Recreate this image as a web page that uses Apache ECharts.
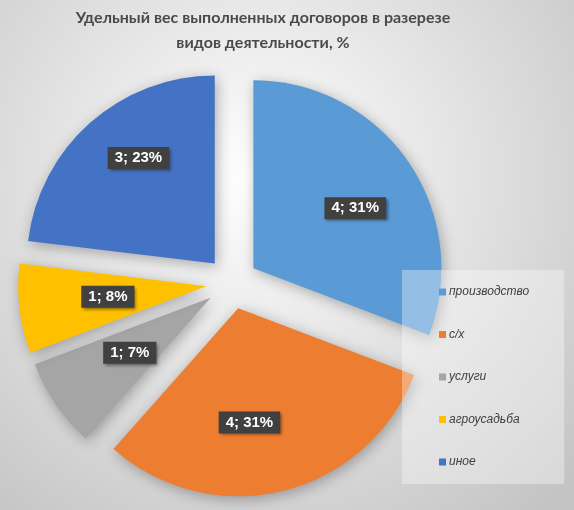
<!DOCTYPE html>
<html>
<head>
<meta charset="utf-8">
<script src="https://cdn.jsdelivr.net/npm/echarts@6/dist/echarts.min.js"></script>
<style>html,body{margin:0;padding:0;}#c{width:574px;height:510px;}</style>
</head>
<body>
<div id="c"></div>
<script>
// --- data ---
var categories = ['производство', 'с/х', 'услуги', 'агроусадьба', 'иное'];
var counts = [4, 4, 1, 1, 3];
var shares = [31, 31, 7, 8, 23];
var titleText = 'Удельный вес выполненных договоров в разерезе\nвидов деятельности, %';

// --- styling ---
var colors = ['#5B9BD5', '#ED7D31', '#A5A5A5', '#FFC000', '#4472C4'];
var labelNudge = [[22, -5], [-12, 20], [-1, 0], [-2, -1], [-12, -33]];

var chart = echarts.init(document.getElementById('c'));
var seriesData = categories.map(function (name, i) {
  return {
    name: name,
    value: counts[i],
    selected: true,
    itemStyle: { color: colors[i] }
  };
});

chart.setOption({
  backgroundColor: {
    type: 'radial', x: 0.45, y: 0.35, r: 0.85,
    colorStops: [{ offset: 0, color: '#ffffff' }, { offset: 1, color: '#c4c4c4' }]
  },
  title: {
    text: titleText,
    left: 258,
    textAlign: 'center',
    top: 0,
    padding: [5, 5, 5, 5],
    textStyle: { fontFamily: 'Lato', fontWeight: 'bold', fontSize: 16, color: '#4a4a4a', lineHeight: 25 }
  },
  legend: {
    orient: 'vertical',
    left: 402,
    top: 270,
    padding: [16, 35, 16, 37],
    itemWidth: 7,
    itemHeight: 7,
    itemGap: 30.5,
    icon: 'rect',
    z: 10,
    backgroundColor: 'rgba(255,255,255,0.35)',
    textStyle: { fontFamily: 'Liberation Sans', fontStyle: 'italic', fontSize: 12, color: '#404040', padding: [0, 0, 0, -2] },
    data: categories
  },
  series: [{
    type: 'pie',
    center: [232, 283],
    radius: 188,
    startAngle: 90,
    clockwise: true,
    selectedMode: 'multiple',
    selectedOffset: 26,
    silent: true,
    animation: false,
    itemStyle: {
      borderWidth: 0,
      shadowBlur: 14,
      shadowColor: 'rgba(0,0,0,0.3)',
      shadowOffsetX: 2,
      shadowOffsetY: 3
    },
    label: {
      show: true,
      position: 'inside',
      formatter: function (p) { return counts[p.dataIndex] + '; ' + shares[p.dataIndex] + '%'; },
      fontFamily: 'Liberation Sans',
      fontWeight: 'bold',
      fontSize: 15,
      color: '#ffffff',
      backgroundColor: '#404040',
      padding: [4, 7, 3, 7],
      shadowColor: 'rgba(0,0,0,0.45)',
      shadowBlur: 3,
      shadowOffsetX: 2,
      shadowOffsetY: 2
    },
    labelLayout: function (params) {
      var n = labelNudge[params.dataIndex];
      return { dx: n[0], dy: n[1] };
    },
    labelLine: { show: false },
    data: seriesData
  }]
});
</script>
</body>
</html>
